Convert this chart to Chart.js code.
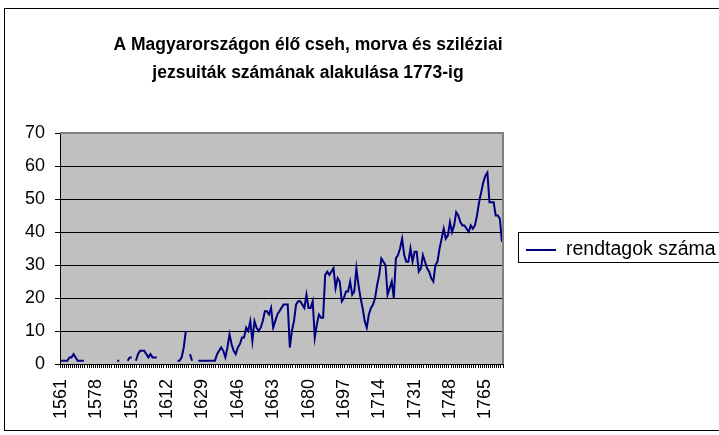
<!DOCTYPE html>
<html>
<head>
<meta charset="utf-8">
<script src="https://cdn.jsdelivr.net/npm/chart.js@4.4.0/dist/chart.umd.min.js"></script>
<style>
    body { margin: 0; background: #fff; }
    #wrap { width: 719px; height: 435px; }
</style>
</head>
<body>
<div id="wrap"><canvas id="jezsuitaChart" width="719" height="435"></canvas></div>
<script>
// years 1561..1773, one category per year
const firstYear = 1561;
const lastYear = 1773;
const years = [];
for (let y = firstYear; y <= lastYear; y++) years.push(String(y));

// only every 17th year gets a label, like the original
const tickYears = ['1561', '1578', '1595', '1612', '1629', '1646', '1663', '1680', '1697', '1714', '1731', '1748', '1765'];

const titleLines = ['A Magyarországon élő cseh, morva és sziléziai', 'jezsuiták számának alakulása 1773-ig'];
const seriesName = 'rendtagok száma';

// null = no data for that year
const members = [
    1, 1, 1, 1, 2, 2, 3, 2, 1, 1,                               // 1561-1570
    1, 1, null, null, null, null, null, null, null, null,       // 1571-1580
    null, null, null, null, null, null, null, 1, 1, null,       // 1581-1590
    null, null, 1, 2, 2, null, 1, 3, 4, 4,                      // 1591-1600
    4, 3, 2, 3, 2, 2, 2, null, null, null,                      // 1601-1610
    null, null, null, null, null, null, 1, 1, 2, 5,             // 1611-1620
    10, null, 3, 1, null, null, 1, 1, 1, 1,                     // 1621-1630
    1, 1, 1, 1, 1, 3, 4, 5, 4, 2,                               // 1631-1640
    5, 9, 6, 4, 3, 5, 6, 8, 8, 11,                              // 1641-1650
    10, 13, 7, 13, 11, 10, 11, 13, 16, 16,                      // 1651-1660
    15, 17, 11, 13, 15, 16, 17, 18, 18, 18,                     // 1661-1670
    5, 10, 13, 18, 19, 19, 18, 17, 21, 17,                      // 1671-1680
    17, 19, 8, 12, 15, 14, 14, 27, 28, 27,                      // 1681-1690
    28, 29, 23, 26, 25, 19, 20, 22, 22, 25,                     // 1691-1700
    21, 22, 29, 24, 20, 17, 13, 11, 15, 17,                     // 1701-1710
    18, 20, 24, 27, 32, 31, 30, 21, 23, 25,                     // 1711-1720
    20, 32, 33, 35, 38, 33, 31, 31, 35, 31,                     // 1721-1730
    34, 34, 28, 29, 33, 31, 29, 28, 26, 25,                     // 1731-1740
    30, 31, 35, 38, 41, 38, 39, 43, 40, 42,                     // 1741-1750
    46, 45, 43, 42, 42, 41, 40, 42, 41, 42,                     // 1751-1760
    45, 49, 52, 55, 57, 58, 49, 49, 49, 45,                     // 1761-1770
    45, 44, 37                                                  // 1771-1773
];

const fontFamily = '"Liberation Sans", Arial, sans-serif';

// grey plot area + outer frame, Excel style
const excelFrame = {
    id: 'excelFrame',
    beforeDraw(chart) {
        const ctx = chart.ctx;
        const a = chart.chartArea;
        ctx.save();
        ctx.fillStyle = '#fff';
        ctx.fillRect(0, 0, chart.width, chart.height);
        ctx.strokeStyle = '#000';
        ctx.lineWidth = 1;
        ctx.strokeRect(4.5, 8.5, 800, 422);
        ctx.fillStyle = '#c0c0c0';
        ctx.fillRect(a.left, a.top, a.right - a.left, a.bottom - a.top);
        ctx.restore();
    },
    afterDatasetsDraw(chart) {
        const ctx = chart.ctx;
        const a = chart.chartArea;
        ctx.save();
        ctx.strokeStyle = '#808080';
        ctx.lineWidth = 2;
        ctx.beginPath();
        ctx.moveTo(a.left, a.top);
        ctx.lineTo(a.right, a.top);
        ctx.lineTo(a.right, a.bottom);
        ctx.stroke();
        ctx.restore();
    }
};

const excelTitle = {
    id: 'excelTitle',
    afterDraw(chart) {
        const ctx = chart.ctx;
        ctx.save();
        ctx.fillStyle = '#000';
        ctx.font = 'bold 17.5px ' + fontFamily;
        ctx.textAlign = 'center';
        ctx.textBaseline = 'middle';
        ctx.fillText(titleLines[0], 308, 45);
        ctx.fillText(titleLines[1], 308, 73);
        ctx.restore();
    }
};

const excelLegend = {
    id: 'excelLegend',
    afterDraw(chart) {
        const ctx = chart.ctx;
        const ds = chart.data.datasets[0];
        ctx.save();
        ctx.strokeStyle = '#000';
        ctx.lineWidth = 1;
        ctx.strokeRect(518.5, 232.5, 300, 30);
        ctx.strokeStyle = ds.borderColor;
        ctx.lineWidth = 2;
        ctx.beginPath();
        ctx.moveTo(526, 250);
        ctx.lineTo(556, 250);
        ctx.stroke();
        ctx.fillStyle = '#000';
        ctx.font = '19.5px ' + fontFamily;
        ctx.textBaseline = 'alphabetic';
        ctx.fillText(ds.label, 566, 255);
        ctx.restore();
    }
};

new Chart(document.getElementById('jezsuitaChart'), {
    type: 'line',
    data: {
        labels: years,
        datasets: [{
            label: seriesName,
            data: members,
            borderColor: '#000080',
            backgroundColor: '#000080',
            borderWidth: 2,
            pointRadius: 0,
            tension: 0,
            spanGaps: false,
            fill: false
        }]
    },
    options: {
        responsive: false,
        animation: false,
        layout: {padding: {left: 4, right: 216, top: 133, bottom: 0}},
        plugins: {
            legend: {display: false},
            title: {display: false},
            tooltip: {enabled: false}
        },
        scales: {
            x: {
                offset: true,
                afterFit: scale => { scale.height = 71; },
                grid: {drawOnChartArea: false, drawTicks: true, tickLength: 4, color: '#000', offset: true},
                border: {display: true, color: '#000', width: 1},
                ticks: {
                    autoSkip: false,
                    maxRotation: 90,
                    minRotation: 90,
                    padding: 11,
                    color: '#000',
                    font: {size: 18, family: fontFamily},
                    callback: function(value, index) {
                        return tickYears.includes(years[index]) ? years[index] : '';
                    }
                }
            },
            y: {
                min: 0,
                max: 70,
                afterFit: scale => { scale.width = 56; },
                grid: {color: '#000', tickLength: 5, drawTicks: true},
                border: {display: true, color: '#000', width: 1},
                ticks: {
                    stepSize: 10,
                    padding: 10,
                    color: '#000',
                    font: {size: 18, family: fontFamily}
                }
            }
        }
    },
    plugins: [excelFrame, excelTitle, excelLegend]
});
</script>
</body>
</html>
